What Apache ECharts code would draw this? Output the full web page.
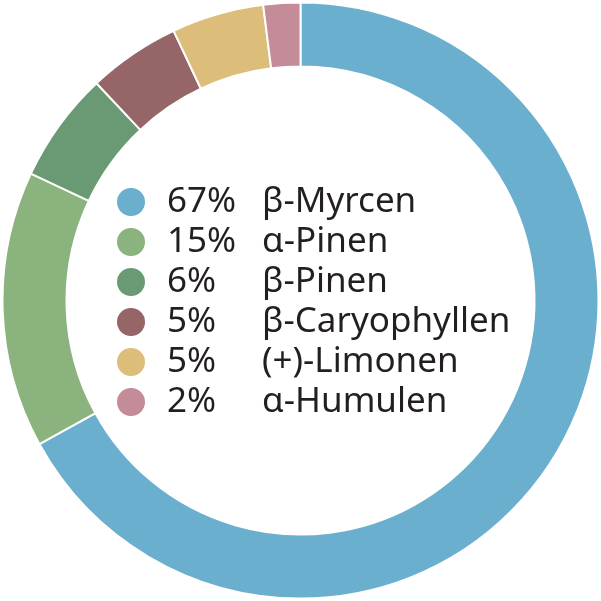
<!DOCTYPE html>
<html><head><meta charset="utf-8">
<script src="https://cdn.jsdelivr.net/npm/echarts@6/dist/echarts.min.js"></script>
<style>html,body{margin:0;padding:0;background:#fff}#c{width:601px;height:601px}</style>
</head><body><div id="c"></div>
<script>
const names = ['β-Myrcen','α-Pinen','β-Pinen','β-Caryophyllen','(+)-Limonen','α-Humulen'];
const values = [67,15,6,5,5,2];
const colors = ['#6aafcd','#8ab37e','#6a9a74','#956567','#dcbe7a','#c48b98'];

const chart = echarts.init(document.getElementById('c'), null, {renderer:'canvas'});
const data = names.map((n,i)=>({name:n, value:values[i], itemStyle:{color:colors[i]}}));
chart.setOption({
  animation:false,
  legend:{
    orient:'vertical', left:115, top:182, padding:0, itemWidth:30, itemHeight:30, itemGap:0,
    icon:'circle', selectedMode:false,
    data: names,
    formatter: function(n){ const i = names.indexOf(n); return '{p|'+values[i]+'%}{n|'+n+'}'; },
    textStyle:{
      fontFamily:'Noto Sans', fontSize:35, color:'#231f20', lineHeight:40,
      rich:{
        p:{fontFamily:'Noto Sans', fontSize:35, color:'#231f20', width:95, padding:[0,0,0,16], lineHeight:40},
        n:{fontFamily:'Noto Sans', fontSize:35, color:'#231f20', lineHeight:40}
      }
    }
  },
  series:[{
    type:'pie', radius:[234,298], center:['50%','50%'], startAngle:90, clockwise:true,
    label:{show:false}, labelLine:{show:false}, silent:true,
    itemStyle:{borderColor:'#fff', borderWidth:2},
    emphasis:{disabled:true},
    data:data
  }]
});
</script></body></html>
